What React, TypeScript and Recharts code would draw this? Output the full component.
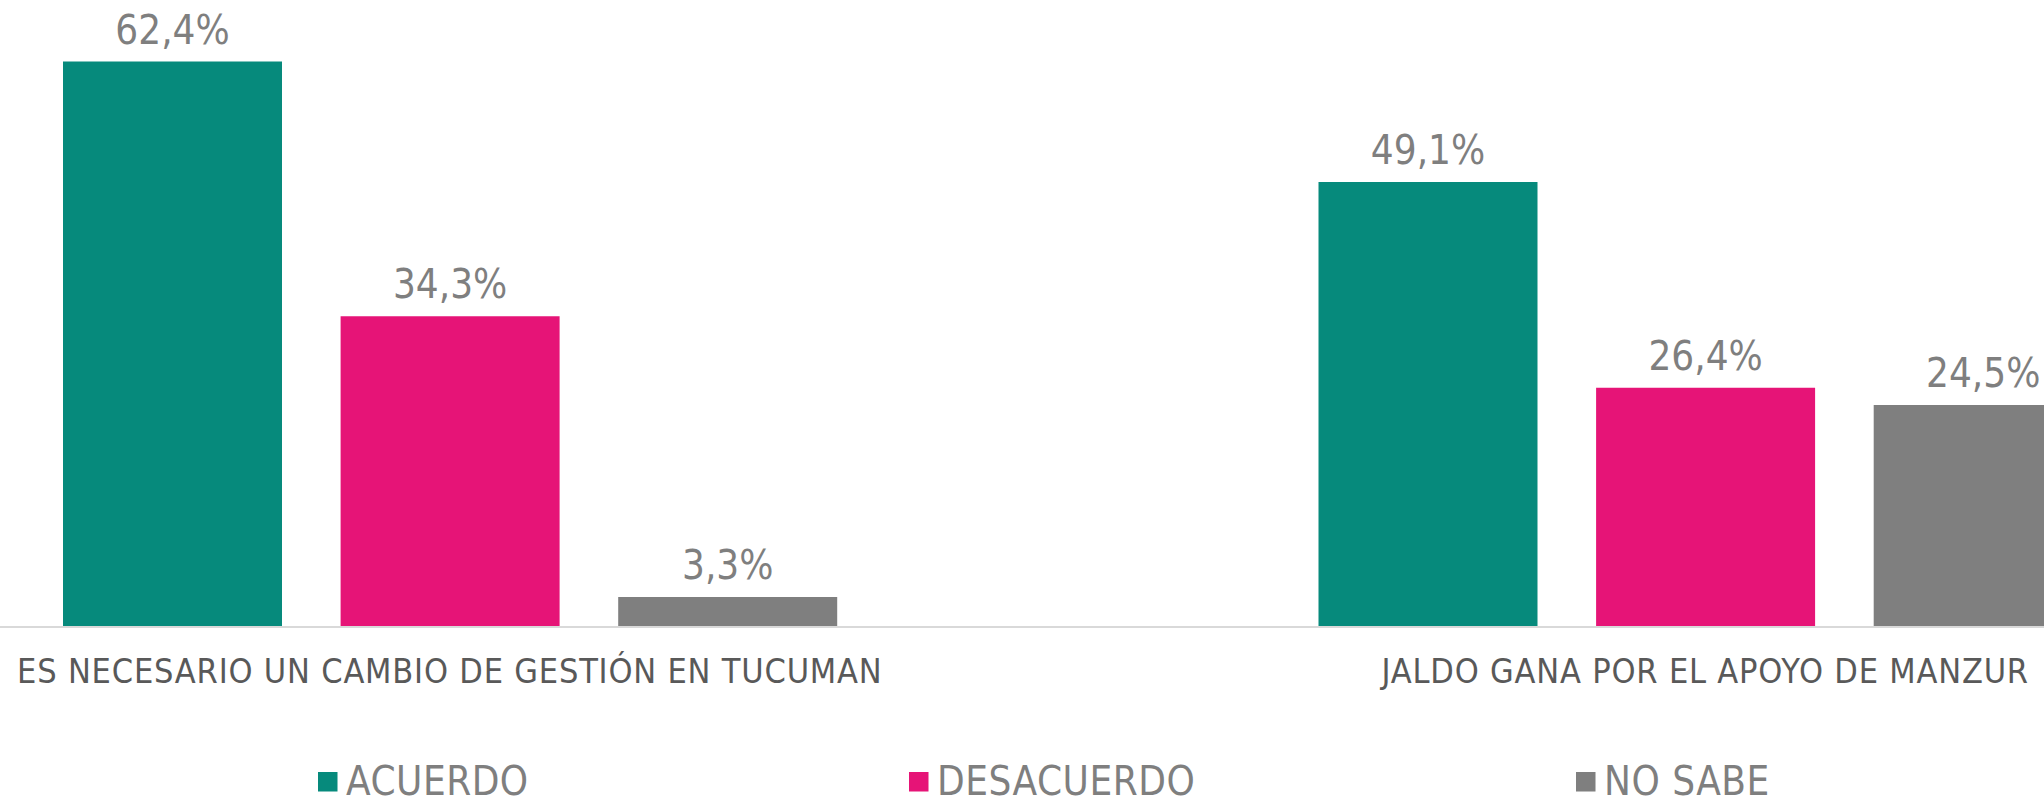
import React from "react";
import { BarChart, Bar, XAxis, YAxis, Legend, LabelList } from "recharts";

const CATEGORIES = [
  "ES NECESARIO UN CAMBIO DE GESTIÓN EN TUCUMAN",
  "JALDO GANA POR EL APOYO DE MANZUR",
];
const ACUERDO = [62.4, 49.1];
const DESACUERDO = [34.3, 26.4];
const NO_SABE = [3.3, 24.5];
const SERIES = ["ACUERDO", "DESACUERDO", "NO SABE"];
const COLORS = ["#068a7c", "#e61477", "#7f7f7f"];

const data = CATEGORIES.map((c, i) => ({
  name: c,
  acuerdo: ACUERDO[i],
  desacuerdo: DESACUERDO[i],
  noSabe: NO_SABE[i],
}));

const FONT = "'DejaVu Sans Condensed', 'DejaVu Sans', sans-serif";
const CHART_LEFT = -178;
const CHART_W = 2511;
const CHART_H = 798;
const LEGEND_H = 50;
const LEGEND_X = [318, 909, 1576];

const fmt = (v: any) => `${Number(v).toFixed(1).replace(".", ",")}%`;

const Tick = (props: any) => {
  const { x, y, payload } = props;
  return (
    <text
      x={x}
      y={y + 56}
      textAnchor="middle"
      fill="#595959"
      fontSize={34}
      fontFamily={FONT}
      style={{ fontStretch: "condensed", letterSpacing: 0.8 }}
    >
      {payload.value}
    </text>
  );
};

const LegendContent = () => (
  <svg width={CHART_W} height={LEGEND_H} style={{ display: "block" }}>
    {SERIES.map((s, i) => (
      <g key={s}>
        <rect x={LEGEND_X[i] - CHART_LEFT} y={24} width={19.5} height={19.5} fill={COLORS[i]} />
        <text
          x={LEGEND_X[i] - CHART_LEFT + 28}
          y={47}
          fill="#7f7f7f"
          fontSize={40}
          fontFamily={FONT}
          style={{ fontStretch: "condensed", letterSpacing: 0.5 }}
        >
          {s}
        </text>
      </g>
    ))}
  </svg>
);

export default function App() {
  const labelProps = {
    position: "top" as const,
    offset: 18,
    formatter: fmt,
    fill: "#7f7f7f",
    fontSize: 40,
    fontFamily: FONT,
    style: { fontStretch: "condensed" },
  };
  return (
    <div
      style={{
        position: "fixed",
        left: 0,
        top: 0,
        width: 2044,
        height: 798,
        overflow: "hidden",
        background: "#ffffff",
      }}
    >
      <div style={{ position: "absolute", left: CHART_LEFT, top: 0 }}>
        <BarChart
          width={CHART_W}
          height={CHART_H}
          data={data}
          margin={{ top: 38, right: 0, left: 0, bottom: 0 }}
          barSize={219}
          barGap={58.6}
        >
          <XAxis
            dataKey="name"
            height={121}
            tickLine={false}
            tickSize={0}
            tickMargin={0}
            axisLine={{ stroke: "#d9d9d9", strokeWidth: 2 }}
            tick={<Tick />}
            interval={0}
          />
          <YAxis hide domain={[0, 65]} />
          <Legend
            verticalAlign="bottom"
            height={LEGEND_H}
            content={<LegendContent />}
            wrapperStyle={{ height: LEGEND_H }}
          />
          <Bar dataKey="acuerdo" name={SERIES[0]} fill={COLORS[0]} isAnimationActive={false}>
            <LabelList dataKey="acuerdo" {...labelProps} />
          </Bar>
          <Bar dataKey="desacuerdo" name={SERIES[1]} fill={COLORS[1]} isAnimationActive={false}>
            <LabelList dataKey="desacuerdo" {...labelProps} />
          </Bar>
          <Bar dataKey="noSabe" name={SERIES[2]} fill={COLORS[2]} isAnimationActive={false}>
            <LabelList dataKey="noSabe" {...labelProps} />
          </Bar>
        </BarChart>
      </div>
    </div>
  );
}
